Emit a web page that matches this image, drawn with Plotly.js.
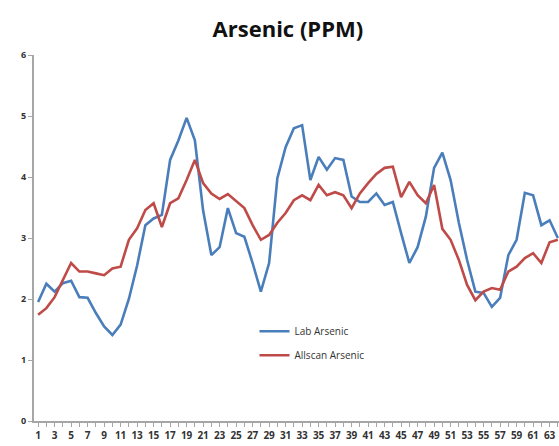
<!DOCTYPE html>
<html>
<head>
<meta charset="utf-8">
<script src="https://cdn.plot.ly/plotly-3.0.1.min.js"></script>
<style>html,body{margin:0;padding:0;background:#fff;}#chart{width:559px;height:446px;}</style>
</head>
<body>
<div id="chart"></div>
<script>
const samples = Array.from({length: 64}, (_, i) => i + 1);
const labArsenic = [1.95, 2.25, 2.12, 2.26, 2.3, 2.03, 2.02, 1.77, 1.55, 1.41,
  1.58, 2.0, 2.55, 3.21, 3.32, 3.38, 4.28, 4.6, 4.97, 4.6,
  3.45, 2.72, 2.85, 3.49, 3.08, 3.02, 2.59, 2.12, 2.59, 3.98,
  4.49, 4.8, 4.85, 3.95, 4.33, 4.12, 4.31, 4.28, 3.68, 3.59,
  3.59, 3.73, 3.54, 3.59, 3.08, 2.59, 2.85, 3.35, 4.15, 4.4,
  3.95, 3.25, 2.64, 2.12, 2.1, 1.87, 2.02, 2.72, 2.97, 3.74,
  3.7, 3.21, 3.29, 3.0];
const allscanArsenic = [1.74, 1.85, 2.03, 2.31, 2.59, 2.45, 2.45, 2.42, 2.39, 2.5,
  2.53, 2.97, 3.16, 3.46, 3.57, 3.18, 3.57, 3.65, 3.95, 4.28,
  3.9, 3.73, 3.64, 3.72, 3.6, 3.49, 3.21, 2.97, 3.05, 3.25,
  3.41, 3.62, 3.7, 3.62, 3.87, 3.7, 3.75, 3.7, 3.49, 3.73,
  3.9, 4.05, 4.15, 4.17, 3.67, 3.92, 3.7, 3.57, 3.87, 3.15,
  2.97, 2.64, 2.23, 1.98, 2.12, 2.18, 2.15, 2.45, 2.53, 2.67,
  2.75, 2.59, 2.93, 2.97];
const xTickLabels = samples.map(v => (v % 2 === 1 ? String(v) : ''));
const yTickVals = [0, 1, 2, 3, 4, 5, 6];

const data = [
  {x: samples, y: labArsenic, type: 'scatter', mode: 'lines', name: 'Lab Arsenic',
   legendgroup: 'a', line: {color: '#4A7EBB', width: 2.6}},
  {x: samples, y: allscanArsenic, type: 'scatter', mode: 'lines', name: 'Allscan Arsenic',
   legendgroup: 'b', line: {color: '#BE4B48', width: 2.6}}
];

const layout = {
  width: 559, height: 446,
  margin: {l: 34, r: 0, t: 55, b: 25},
  paper_bgcolor: '#ffffff', plot_bgcolor: '#ffffff',
  title: {text: '<b>Arsenic (PPM)</b>', x: 0.515, xanchor: 'center', y: 0.935, yanchor: 'middle',
          font: {family: 'Open Sans', size: 22, color: '#111'}},
  xaxis: {range: [0.5, 64.14], tickvals: samples, ticktext: xTickLabels, tickangle: 0,
          showgrid: false, zeroline: false, showline: true, linecolor: '#a6a6a6', linewidth: 2,
          ticks: 'outside', ticklen: 4, tickcolor: '#a6a6a6', tickwidth: 1,
          tickfont: {family: 'Open Sans', size: 10, color: '#333', weight: 'bold'}, fixedrange: true},
  yaxis: {range: [0, 6], tickvals: yTickVals, showgrid: false, zeroline: false,
          showline: true, linecolor: '#a6a6a6', linewidth: 2,
          ticks: 'outside', ticklen: 4, tickcolor: '#a6a6a6', tickwidth: 1,
          tickfont: {family: 'Open Sans', size: 9, color: '#333', weight: 'bold'}, fixedrange: true},
  legend: {x: 0.42, y: 0.285, xanchor: 'left', yanchor: 'top', bgcolor: 'rgba(0,0,0,0)',
           tracegroupgap: 5, font: {family: 'Open Sans', size: 10, color: '#333'}},
  showlegend: true
};

Plotly.newPlot('chart', data, layout, {displayModeBar: false, staticPlot: true});
</script>
</body>
</html>
